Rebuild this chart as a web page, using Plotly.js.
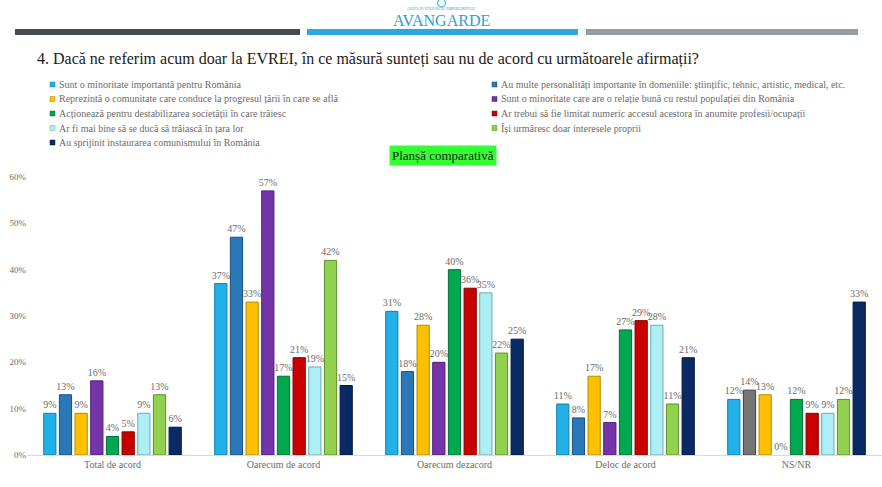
<!DOCTYPE html>
<html><head><meta charset="utf-8">
<script src="https://cdn.plot.ly/plotly-3.0.1.min.js"></script>
<style>html,body{margin:0;padding:0;background:#fff;}#chart{width:882px;height:487px;}</style>
</head><body><div id="chart"></div>
<script>
const categories = ["Total de acord", "Oarecum de acord", "Oarecum dezacord", "Deloc de acord", "NS/NR"];
const seriesNames = [
  "Sunt o minoritate importantă pentru România",
  "Au multe personalități importante în domeniile: științific, tehnic, artistic, medical, etc.",
  "Reprezintă o comunitate care conduce la progresul țării în care se află",
  "Sunt o minoritate care are o relație bună cu restul populației din România",
  "Acționează pentru destabilizarea societății în care trăiesc",
  "Ar trebui să fie limitat numeric accesul acestora în anumite profesii/ocupații",
  "Ar fi mai bine să se ducă să trăiască în țara lor",
  "Își urmăresc doar interesele proprii",
  "Au sprijinit instaurarea comunismului în România"
];
const s1 = [9, 37, 31, 11, 12];
const s2 = [13, 47, 18, 8, 14];
const s3 = [9, 33, 28, 17, 13];
const s4 = [16, 57, 20, 7, 0];
const s5 = [4, 17, 40, 27, 12];
const s6 = [5, 21, 36, 29, 9];
const s7 = [9, 19, 35, 28, 9];
const s8 = [13, 42, 22, 11, 12];
const s9 = [6, 15, 25, 21, 33];
const seriesValues = [s1, s2, s3, s4, s5, s6, s7, s8, s9];
const yTicks = [0, 10, 20, 30, 40, 50, 60];
const title = "4. Dacă ne referim acum doar la EVREI, în ce măsură sunteți sau nu de acord cu următoarele afirmații?";
const subtitle = "Planșă comparativă";

const colors = ["#22B0E8", "#2A78B8", "#FFC000", "#7535A8", "#00A850", "#C80000", "#AEEFF5", "#92D050", "#0A2A66"];
const lineColors = ["#137FAA", "#1B4F7E", "#B58A00", "#4E1F74", "#00703A", "#850000", "#6FA9AE", "#5E8F2E", "#041838"];
// NS/NR bar of the 2nd series is drawn grey in the original
const s2Colors = [colors[1], colors[1], colors[1], colors[1], "#757575"];
const s2Lines = [lineColors[1], lineColors[1], lineColors[1], lineColors[1], "#3F3F3F"];

const W = 882, H = 487, mL = 27, mR = 0, mT = 177, mB = 32;
const pw = W - mL - mR, ph = H - mT - mB;
const px2x = p => (p - mL) / pw;
const py2y = p => (H - mB - p) / ph;

const serif = "Liberation Serif";
const grey = "#6b6b6b";

const traces = seriesValues.map((vals, i) => ({
  type: "bar",
  x: categories,
  y: vals,
  name: seriesNames[i],
  marker: {
    color: i === 1 ? s2Colors : colors[i],
    line: { color: i === 1 ? s2Lines : lineColors[i], width: vals.map(v => v === 0 ? 0 : 1) }
  },
  text: vals.map(v => v + "%"),
  textposition: "outside",
  constraintext: "none",
  textfont: { family: serif, size: 10, color: grey },
  cliponaxis: false,
  hoverinfo: "none",
  showlegend: false
}));

const shapes = [
  { type: "rect", xref: "paper", yref: "paper", x0: px2x(15), x1: px2x(300), y0: py2y(35), y1: py2y(29), fillcolor: "#454B51", line: { width: 0 } },
  { type: "rect", xref: "paper", yref: "paper", x0: px2x(307), x1: px2x(578), y0: py2y(35), y1: py2y(29), fillcolor: "#2BA8DD", line: { width: 0 } },
  { type: "rect", xref: "paper", yref: "paper", x0: px2x(586), x1: px2x(858), y0: py2y(35), y1: py2y(29), fillcolor: "#969CA3", line: { width: 0 } },
  { type: "circle", xref: "paper", yref: "paper", x0: px2x(437.5), x1: px2x(445.5), y0: py2y(7), y1: py2y(-1), fillcolor: "rgba(0,0,0,0)", line: { color: "#2BA8DD", width: 1 } }
];
const annotations = [
  { text: "AVANGARDE", xref: "paper", yref: "paper", x: px2x(441), y: py2y(21), xanchor: "center", yanchor: "middle", showarrow: false, font: { family: serif, size: 16, color: "#2BA0D8" } },
  { text: "GRUPUL DE STUDII SOCIO-COMPORTAMENTALE", xref: "paper", yref: "paper", x: px2x(441), y: py2y(9), xanchor: "center", yanchor: "middle", showarrow: false, font: { family: serif, size: 3, color: "#2BA0D8" } },
  { text: title, xref: "paper", yref: "paper", x: px2x(35), y: py2y(59), xanchor: "left", yanchor: "middle", showarrow: false, font: { family: serif, size: 16, color: "#1a1a1a" } },
  { text: subtitle, xref: "paper", yref: "paper", x: px2x(443), y: py2y(155), xanchor: "center", yanchor: "middle", showarrow: false, bgcolor: "#33FF33", borderpad: 2, font: { family: serif, size: 13, color: "#1a1a1a" } }
];
seriesNames.forEach((n, i) => {
  const col = i % 2, row = Math.floor(i / 2);
  const yc = 84.5 + row * 14.5;
  const mx = col === 0 ? 50 : 492;
  shapes.push({ type: "rect", xref: "paper", yref: "paper", x0: px2x(mx), x1: px2x(mx + 5), y0: py2y(yc + 2.5), y1: py2y(yc - 2.5), fillcolor: colors[i], line: { color: lineColors[i], width: 0.5 } });
  annotations.push({ text: n, xref: "paper", yref: "paper", x: px2x(mx + 7), y: py2y(yc), xanchor: "left", yanchor: "middle", showarrow: false, font: { family: serif, size: 10, color: grey } });
});

const layout = {
  width: W, height: H,
  margin: { l: mL, r: mR, t: mT, b: mB },
  paper_bgcolor: "#fff", plot_bgcolor: "#fff",
  barmode: "group", bargap: 0.175, bargroupgap: 0.22,
  xaxis: { showgrid: false, showline: true, linecolor: "#d9d9d9", linewidth: 1, ticks: "", tickfont: { family: serif, size: 10, color: grey }, fixedrange: true },
  yaxis: { range: [0, 60], tickvals: yTicks, ticktext: yTicks.map(v => v + "%"), showgrid: false, zeroline: false, showline: false, ticks: "", tickfont: { family: serif, size: 9, color: grey }, fixedrange: true },
  shapes: shapes,
  annotations: annotations
};
Plotly.newPlot("chart", traces, layout, { displayModeBar: false, staticPlot: true });
</script></body></html>
